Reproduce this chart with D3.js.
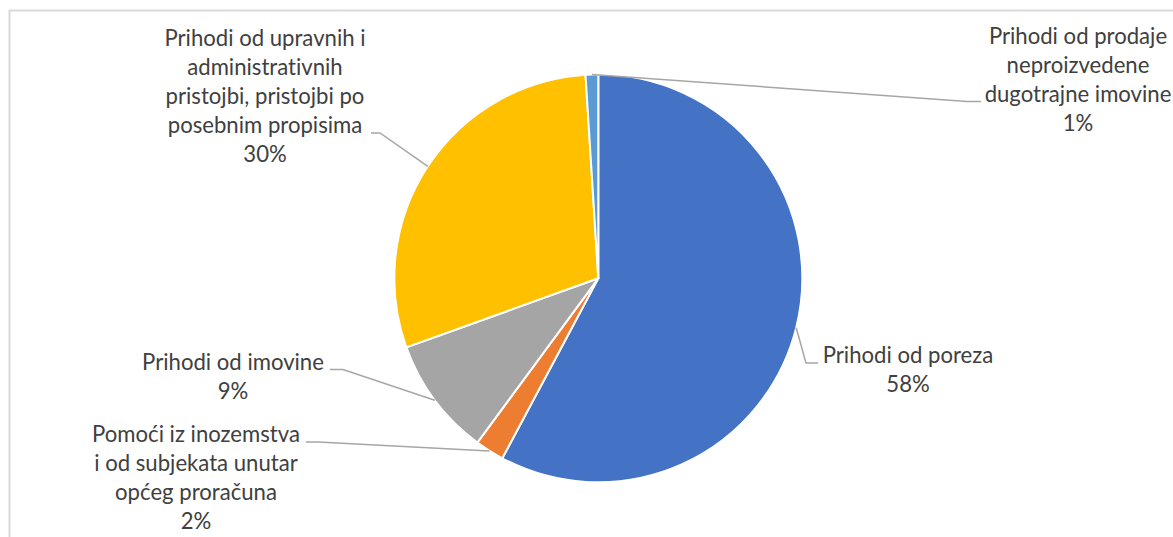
<!DOCTYPE html>
<html>
<head>
<meta charset="utf-8">
<script src="https://cdn.jsdelivr.net/npm/d3@7"></script>
<style>
  body { margin: 0; background: #fff; }
  svg { display: block; }
  text { font-variant-ligatures: none; }
</style>
</head>
<body>
<svg id="chart"></svg>
<script>
// slice order as drawn: clockwise from 12 o'clock
let categories = [
  "Prihodi od poreza",
  "Pomoći iz inozemstva i od subjekata unutar općeg proračuna",
  "Prihodi od imovine",
  "Prihodi od upravnih i administrativnih pristojbi, pristojbi po posebnim propisima",
  "Prihodi od prodaje neproizvedene dugotrajne imovine",
];
let shares = [57.8, 2.3, 9.4, 29.5, 1.0];
let labelLines = [
  ["Prihodi od poreza"],
  ["Pomoći iz inozemstva", "i od subjekata unutar", "općeg proračuna"],
  ["Prihodi od imovine"],
  ["Prihodi od upravnih i", "administrativnih", "pristojbi, pristojbi po", "posebnim propisima"],
  ["Prihodi od prodaje", "neproizvedene", "dugotrajne imovine"],
];
let colors = ["#4472C4", "#ED7D31", "#A5A5A5", "#FFC000", "#5B9BD5"];

// label placement (text centre x, first baseline, leader end + elbow)
let labelLayout = [
  { x: 908, y: 363, ex: 818, ey: 363, bx: 806 },
  { x: 196, y: 442, ex: 306, ey: 442, bx: 318 },
  { x: 233, y: 370, ex: 330, ey: 369.5, bx: 343 },
  { x: 265, y: 46, ex: 371, ey: 133, bx: 380 },
  { x: 1078, y: 43.5, ex: 981, ey: 101.5, bx: 967 },
];

let width = 1173;
let height = 537;
let cx = 598.3;
let cy = 278.3;
let radius = 204;
let lineHeight = 29;

let svg = d3.select("#chart").attr("width", width).attr("height", height);

// chart frame
svg
  .append("rect")
  .attr("x", 9.5)
  .attr("y", 10.5)
  .attr("width", width)
  .attr("height", height)
  .attr("fill", "none")
  .attr("stroke", "#D9D9D9")
  .attr("stroke-width", 2);

// fit the font size so labels take the same width as the original Calibri
let fontFamily = "Lato, 'Open Sans', sans-serif";
let probe = svg
  .append("text")
  .style("font-family", fontFamily)
  .style("font-size", "24px")
  .text("Prihodi od poreza");
let fontSize = (24 * 170.6) / probe.node().getComputedTextLength();
probe.remove();

let pie = d3
  .pie()
  .sort(null)
  .value((d) => d);
let arcs = pie(shares);
let arc = d3.arc().innerRadius(0).outerRadius(radius);

let body = svg.append("g").attr("transform", `translate(${cx},${cy})`);

body
  .selectAll(".slice")
  .data(arcs)
  .enter()
  .append("path")
  .attr("class", "slice")
  .attr("d", arc)
  .attr("fill", (d, i) => colors[i])
  .attr("stroke", "#fff")
  .attr("stroke-width", 2)
  .attr("stroke-linejoin", "round");

// leader lines from the slice's mid-angle on the rim
let leaders = svg.append("g");
arcs.forEach((d, i) => {
  let mid = (d.startAngle + d.endAngle) / 2;
  let px = cx + radius * Math.sin(mid);
  let py = cy - radius * Math.cos(mid);
  let l = labelLayout[i];
  leaders
    .append("polyline")
    .attr("points", `${px},${py} ${l.bx},${l.ey} ${l.ex},${l.ey}`)
    .attr("fill", "none")
    .attr("stroke", "#A6A6A6")
    .attr("stroke-width", 1.5);
});

let labels = svg
  .append("g")
  .style("font-family", fontFamily)
  .style("font-size", fontSize + "px")
  .attr("fill", "#404040")
  .attr("text-anchor", "middle");

arcs.forEach((d, i) => {
  let l = labelLayout[i];
  let lines = labelLines[i].concat([d3.format(".0f")(d.data) + "%"]);
  let text = labels.append("text").attr("x", l.x).attr("y", l.y);
  lines.forEach((line, j) => {
    text
      .append("tspan")
      .attr("x", l.x)
      .attr("y", l.y + j * lineHeight)
      .text(line);
  });
});
</script>
</body>
</html>
